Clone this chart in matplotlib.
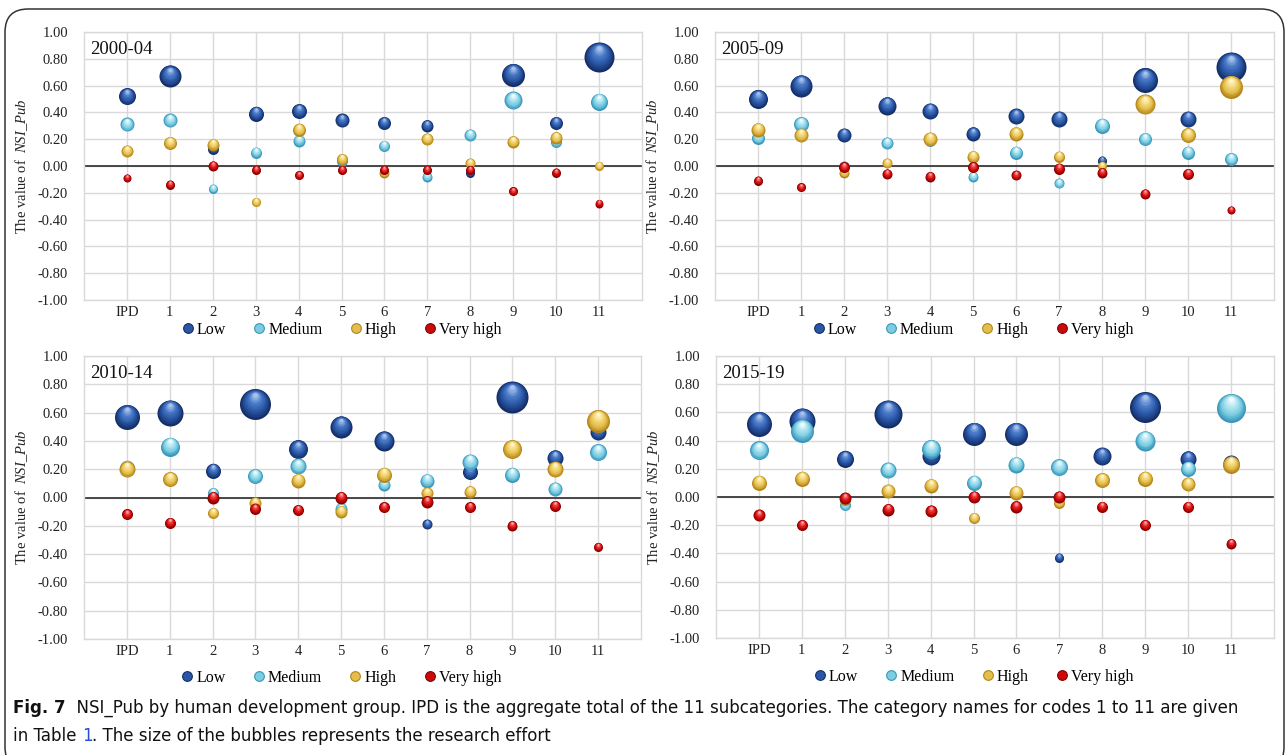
import numpy as np
import matplotlib
matplotlib.use('Agg')
import matplotlib.pyplot as plt
from matplotlib.transforms import ScaledTranslation
from matplotlib.lines import Line2D
from matplotlib.patches import FancyBboxPatch
from matplotlib.colors import to_rgb
from matplotlib.text import Annotation

plt.rcParams['font.family'] = ['Liberation Serif', 'DejaVu Serif']
plt.rcParams['axes.unicode_minus'] = False
plt.rcParams['mathtext.fontset'] = 'custom'
plt.rcParams['mathtext.it'] = 'Liberation Serif:italic'
plt.rcParams['mathtext.rm'] = 'Liberation Serif'

categories = ['IPD', '1', '2', '3', '4', '5', '6', '7', '8', '9', '10', '11']
groups = ['Low', 'Medium', 'High', 'Very high']
periods = ['2000-04', '2005-09', '2010-14', '2015-19']
yticks = [-1.0, -0.8, -0.6, -0.4, -0.2, 0.0, 0.2, 0.4, 0.6, 0.8, 1.0]

# NSI_Pub values, one list per group and period
low_0004 = [0.52, 0.67, 0.13, 0.39, 0.41, 0.34, 0.32, 0.30, -0.05, 0.68, 0.32, 0.81]
med_0004 = [0.31, 0.34, -0.17, 0.10, 0.19, 0.04, 0.15, -0.08, 0.23, 0.49, 0.18, 0.48]
high_0004 = [0.11, 0.17, 0.16, -0.27, 0.27, 0.05, -0.05, 0.20, 0.02, 0.18, 0.21, 0.00]
vhigh_0004 = [-0.09, -0.14, 0.00, -0.03, -0.07, -0.03, -0.03, -0.03, -0.03, -0.19, -0.05, -0.28]

low_0509 = [0.50, 0.60, 0.23, 0.45, 0.41, 0.24, 0.37, 0.35, 0.04, 0.64, 0.35, 0.74]
med_0509 = [0.21, 0.31, 0.00, 0.17, 0.19, -0.08, 0.10, -0.13, 0.30, 0.20, 0.10, 0.05]
high_0509 = [0.27, 0.23, -0.05, 0.02, 0.20, 0.07, 0.24, 0.07, 0.00, 0.46, 0.23, 0.59]
vhigh_0509 = [-0.11, -0.16, -0.01, -0.06, -0.08, -0.01, -0.07, -0.02, -0.05, -0.21, -0.06, -0.33]

low_1014 = [0.57, 0.60, 0.19, 0.66, 0.34, 0.50, 0.40, -0.19, 0.18, 0.71, 0.28, 0.46]
med_1014 = [0.21, 0.36, 0.03, 0.15, 0.22, -0.08, 0.09, 0.12, 0.25, 0.16, 0.06, 0.32]
high_1014 = [0.20, 0.13, -0.11, -0.04, 0.12, -0.10, 0.16, 0.03, 0.04, 0.34, 0.20, 0.54]
vhigh_1014 = [-0.12, -0.18, 0.00, -0.08, -0.09, 0.00, -0.07, -0.03, -0.07, -0.20, -0.06, -0.35]

low_1519 = [0.52, 0.54, 0.27, 0.59, 0.29, 0.45, 0.45, -0.43, 0.29, 0.64, 0.27, 0.24]
med_1519 = [0.33, 0.47, -0.06, 0.19, 0.34, 0.10, 0.23, 0.21, 0.12, 0.40, 0.20, 0.63]
high_1519 = [0.10, 0.13, -0.02, 0.04, 0.08, -0.15, 0.03, -0.04, 0.12, 0.13, 0.09, 0.23]
vhigh_1519 = [-0.13, -0.20, -0.01, -0.09, -0.10, 0.00, -0.07, 0.00, -0.07, -0.20, -0.07, -0.33]

# research effort (relative bubble diameter)
eff_low_0004 = [17, 22, 11, 15, 15, 14, 13, 12, 9, 23, 13, 30]
eff_med_0004 = [14, 14, 9, 11, 12, 11, 11, 10, 12, 18, 11, 17]
eff_high_0004 = [12, 13, 12, 9, 13, 11, 10, 12, 10, 12, 12, 9]
eff_vhigh_0004 = [8, 9, 10, 9, 9, 9, 9, 9, 9, 9, 9, 8]

eff_low_0509 = [19, 22, 14, 18, 16, 14, 16, 16, 9, 25, 16, 30]
eff_med_0509 = [13, 15, 10, 12, 11, 10, 13, 10, 15, 13, 13, 13]
eff_high_0509 = [14, 14, 10, 10, 14, 12, 14, 11, 9, 20, 15, 23]
eff_vhigh_0509 = [9, 9, 11, 10, 10, 11, 10, 11, 10, 10, 11, 8]

eff_low_1014 = [25, 26, 15, 31, 19, 22, 20, 10, 15, 32, 16, 16]
eff_med_1014 = [15, 19, 11, 15, 16, 12, 12, 14, 16, 15, 14, 17]
eff_high_1014 = [16, 15, 11, 12, 14, 12, 15, 12, 12, 19, 16, 23]
eff_vhigh_1014 = [11, 11, 12, 11, 11, 12, 11, 12, 11, 10, 11, 9]

eff_low_1519 = [25, 26, 17, 28, 18, 23, 23, 9, 18, 31, 16, 16]
eff_med_1519 = [19, 23, 11, 16, 19, 15, 16, 17, 13, 20, 15, 29]
eff_high_1519 = [15, 15, 11, 14, 14, 11, 14, 11, 15, 15, 14, 17]
eff_vhigh_1519 = [12, 11, 12, 12, 12, 12, 12, 12, 11, 11, 11, 10]

values = [
    [low_0004, med_0004, high_0004, vhigh_0004],
    [low_0509, med_0509, high_0509, vhigh_0509],
    [low_1014, med_1014, high_1014, vhigh_1014],
    [low_1519, med_1519, high_1519, vhigh_1519],
]
efforts = [
    [eff_low_0004, eff_med_0004, eff_high_0004, eff_vhigh_0004],
    [eff_low_0509, eff_med_0509, eff_high_0509, eff_vhigh_0509],
    [eff_low_1014, eff_med_1014, eff_high_1014, eff_vhigh_1014],
    [eff_low_1519, eff_med_1519, eff_high_1519, eff_vhigh_1519],
]

# dark edge -> mid -> light -> highlight
shades = [
    ['#142f68', '#2a56a6', '#4a7bc8', '#a9c2ec'],
    ['#3a97bb', '#7ccde2', '#b0e6f2', '#f2fbfe'],
    ['#b4861a', '#e4be4c', '#f6da80', '#fff6d0'],
    ['#860000', '#cc0a0a', '#ee3a3a', '#ffb0b0'],
]

W, H = 1287, 755
fig = plt.figure(figsize=(W / 100, H / 100), dpi=100)

# outer rounded frame (bottom edge runs off the page)
frame = FancyBboxPatch((5 / W, -0.02), 1279 / W, 1.02 - 9 / H,
                       boxstyle='round,pad=0,rounding_size=0.018',
                       transform=fig.transFigure, fill=False,
                       edgecolor='#333333', lw=1.1, mutation_aspect=W / H)
fig.add_artist(frame)

# plot areas in pixels: left, top, right, bottom
boxes = [(84, 32, 642, 300), (715, 32, 1274, 300),
         (84, 356, 641, 639), (716, 356, 1274, 638)]


def shade_list(cols, n=10):
    pts = [np.array(to_rgb(c)) for c in cols]
    out = []
    for t in np.linspace(0, 1, n):
        seg = min(int(t * 3), 2)
        f = t * 3 - seg
        out.append(pts[seg] * (1 - f) + pts[seg + 1] * f)
    return out


def sphere(ax, x, y, d, cols, z):
    layers = shade_list(cols)
    n = len(layers)
    for i, c in enumerate(layers):
        t = i / (n - 1)
        frac = 1.0 - 0.85 * t
        up = 0.30 * t * d / 100.0
        tr = ax.transData + ScaledTranslation(0, up, fig.dpi_scale_trans)
        ax.scatter([x], [y], s=(0.72 * d * frac) ** 2, color=c,
                   linewidths=0, transform=tr, zorder=z)


xpos = np.arange(1, len(categories) + 1)

for p in range(4):
    l, t, r, b = boxes[p]
    ax = fig.add_axes([l / W, 1 - b / H, (r - l) / W, (b - t) / H])
    ax.set_xlim(0, len(categories) + 1)
    ax.set_ylim(-1, 1)
    ax.set_xticks(xpos)
    ax.set_xticklabels(categories)
    ax.set_yticks(yticks)
    ax.set_yticklabels(['%.2f' % v for v in yticks])
    ax.tick_params(length=0, labelsize=10.5, colors='#222222')
    ax.tick_params(axis='y', pad=11.5)
    ax.tick_params(axis='x', pad=4)
    ax.grid(True, color='#d9d9d9', lw=1.0)
    ax.set_axisbelow(True)
    for s in ax.spines.values():
        s.set_color('#d9d9d9')
        s.set_linewidth(1.0)
    ax.axhline(0, color='#3a3a3a', lw=1.3, zorder=2)

    for g in range(4):
        for x, y, d in zip(xpos, values[p][g], efforts[p][g]):
            sphere(ax, x, y, d, shades[g], 3 + g)

    ax.text(6 / (r - l), 1 - 17 / (b - t), periods[p], transform=ax.transAxes,
            fontsize=13.5, va='center', ha='left', color='#111111')
    ax.set_ylabel('The value of  $\\mathit{NSI\\_Pub}$', fontsize=10.5, color='#222222')
    ax.yaxis.set_label_coords(-54 / (r - l), 0.5)

    handles = [Line2D([], [], ls='none', marker='o', markersize=7,
                      markerfacecolor=shades[g][1], markeredgecolor=shades[g][0],
                      markeredgewidth=0.8) for g in range(4)]
    leg_y = -30 / (b - t) if p < 2 else -39 / (b - t)
    ax.legend(handles, groups, loc='center', bbox_to_anchor=(0.46, leg_y),
              ncol=4, frameon=False, fontsize=11.5, handletextpad=0.05,
              columnspacing=1.6, handlelength=1.0, borderaxespad=0)

# caption
cap_kw = dict(fontsize=13.3, family=['DejaVu Sans'], fontstretch='condensed',
              color='#111111')
t1 = fig.text(13 / W, 1 - 708 / H, 'Fig. 7', fontweight='bold',
              va='center', ha='left', **cap_kw)
fig.add_artist(Annotation(
    '  NSI_Pub by human development group. IPD is the aggregate total of the 11 subcategories. '
    'The category names for codes 1 to 11 are given',
    xy=(1, 0), xycoords=t1, va='bottom', ha='left', **cap_kw))
t2 = fig.text(13 / W, 1 - 736 / H, 'in Table ', va='center', ha='left', **cap_kw)
t3 = Annotation('1', xy=(1, 0), xycoords=t2, va='bottom', ha='left',
                **dict(cap_kw, color='#2a4fd6'))
fig.add_artist(t3)
fig.add_artist(Annotation(
    '. The size of the bubbles represents the research effort', xy=(1, 0), xycoords=t3,
    va='bottom', ha='left', **cap_kw))

fig.savefig('out.png', dpi=100)
